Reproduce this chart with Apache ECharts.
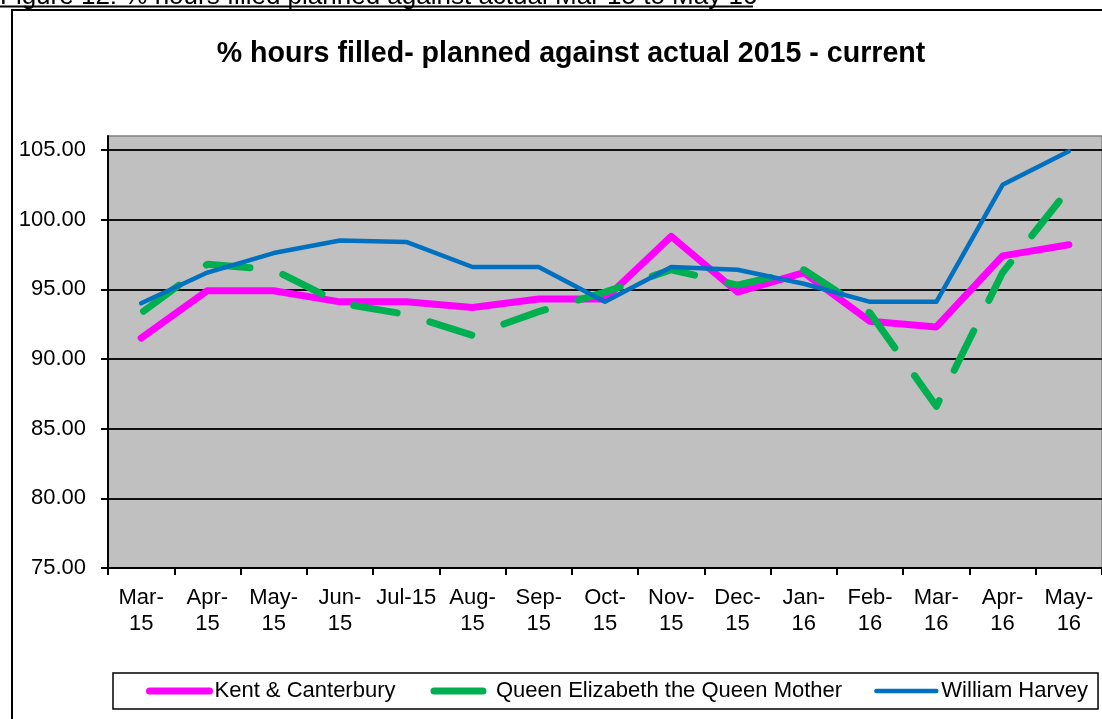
<!DOCTYPE html>
<html>
<head>
<meta charset="utf-8">
<title>% hours filled</title>
<script src="https://cdn.jsdelivr.net/npm/echarts@6.0.0/dist/echarts.min.js"></script>
<style>
  html, body { margin: 0; padding: 0; background: #fff; }
  #chart { width: 1102px; height: 719px; }
</style>
</head>
<body>
<div id="chart"></div>
<script>
    // month labels, wrapped the way the original axis wraps them
    const months = ['Mar-\n15', 'Apr-\n15', 'May-\n15', 'Jun-\n15', 'Jul-15', 'Aug-\n15', 'Sep-\n15',
        'Oct-\n15', 'Nov-\n15', 'Dec-\n15', 'Jan-\n16', 'Feb-\n16', 'Mar-\n16', 'Apr-\n16', 'May-\n16'];

    const kentCanterbury = [91.5, 94.9, 94.9, 94.1, 94.1, 93.7, 94.3, 94.3, 98.8, 94.8, 96.2, 92.7, 92.3, 97.4, 98.2];
    const queenMother = [93.3, 96.8, 96.4, 94.0, 93.2, 91.7, 93.4, 94.8, 96.4, 95.3, 96.4, 93.3, 86.6, 96.2, 102.2];
    const williamHarvey = [94.0, 96.2, 97.6, 98.5, 98.4, 96.6, 96.6, 94.1, 96.6, 96.4, 95.4, 94.1, 94.1, 102.5, 104.9];

    const seriesNames = ['Kent & Canterbury', 'Queen Elizabeth the Queen Mother', 'William Harvey'];

    const yMin = 75;
    const yMax = 106;
    const yStep = 5;

    const font = "'Liberation Sans', Arial, sans-serif";
    const caption = 'Figure 12: % hours filled planned against actual Mar 15 to May 16';

    const chart = echarts.init(document.getElementById('chart'), null, {renderer: 'canvas'});

    chart.setOption({
        backgroundColor: '#fff',
        animation: false,
        textStyle: {fontFamily: font, color: '#000'},
        title: {
            text: '% hours filled- planned against actual 2015 - current',
            left: 571,
            top: 40,
            padding: 0,
            textAlign: 'center',
            textStyle: {fontFamily: font, fontSize: 28.6, fontWeight: 'bold', color: '#000'}
        },
        graphic: [
            // outer chart frame, only top and left edges fall inside the picture
            {
                type: 'polyline',
                shape: {points: [[12, 730], [12, 10], [1110, 10]]},
                style: {fill: null, stroke: '#000', lineWidth: 2},
                silent: true
            },
            {
                type: 'text',
                x: 0,
                y: 10,
                style: {
                    text: caption,
                    font: "26px 'Liberation Sans', Arial, sans-serif",
                    fill: '#000',
                    verticalAlign: 'bottom'
                },
                silent: true
            },
            {
                type: 'line',
                shape: {x1: 0, y1: 6.5, x2: 753, y2: 6.5},
                style: {stroke: '#000', lineWidth: 2},
                silent: true
            }
        ],
        legend: {
            data: [
                {name: seriesNames[0], lineStyle: {width: 7}},
                {name: seriesNames[1], lineStyle: {width: 7, type: [49, 30]}},
                {name: seriesNames[2], lineStyle: {width: 4.5}}
            ],
            left: 113,
            top: 673,
            width: 1100,
            padding: [7, 10, 7, 33],
            itemWidth: 60,
            itemHeight: 14,
            itemGap: 32,
            itemStyle: {opacity: 0},
            lineStyle: {cap: 'round'},
            borderColor: '#000',
            borderWidth: 1.5,
            borderRadius: 0,
            backgroundColor: '#fff',
            textStyle: {fontFamily: font, fontSize: 22, color: '#000'}
        },
        grid: {
            left: 108,
            top: 136,
            right: -4,
            bottom: 151,
            show: true,
            backgroundColor: '#C0C0C0',
            borderColor: '#808080',
            borderWidth: 1.5
        },
        xAxis: {
            type: 'category',
            data: months,
            boundaryGap: true,
            axisLine: {lineStyle: {color: '#000', width: 2}},
            axisTick: {show: true, length: 7, lineStyle: {color: '#000', width: 2}},
            axisLabel: {
                fontFamily: font,
                fontSize: 22,
                lineHeight: 26,
                color: '#000',
                margin: 17,
                interval: 0,
                align: 'center'
            },
            splitLine: {show: false}
        },
        yAxis: {
            type: 'value',
            min: yMin,
            max: yMax,
            interval: yStep,
            axisLine: {show: true, lineStyle: {color: '#000', width: 2}},
            axisTick: {show: true, length: 7, lineStyle: {color: '#000', width: 2}},
            axisLabel: {
                fontFamily: font,
                fontSize: 22,
                color: '#000',
                margin: 22,
                showMaxLabel: false,
                formatter: v => v.toFixed(2)
            },
            splitLine: {
                show: true,
                showMinLine: false,
                showMaxLine: false,
                lineStyle: {color: '#111', width: 2}
            }
        },
        series: [
            {
                name: seriesNames[0],
                type: 'line',
                data: kentCanterbury,
                symbol: 'none',
                lineStyle: {color: '#FF00FF', width: 7, cap: 'round', join: 'round'},
                itemStyle: {color: '#FF00FF'}
            },
            {
                name: seriesNames[1],
                type: 'line',
                data: queenMother,
                symbol: 'none',
                lineStyle: {color: '#00B050', width: 7, type: [44, 34], dashOffset: -3, cap: 'round', join: 'round'},
                itemStyle: {color: '#00B050'}
            },
            {
                name: seriesNames[2],
                type: 'line',
                data: williamHarvey,
                symbol: 'none',
                lineStyle: {color: '#0070C0', width: 4.5, cap: 'round', join: 'round'},
                itemStyle: {color: '#0070C0'}
            }
        ]
    });
</script>
</body>
</html>
